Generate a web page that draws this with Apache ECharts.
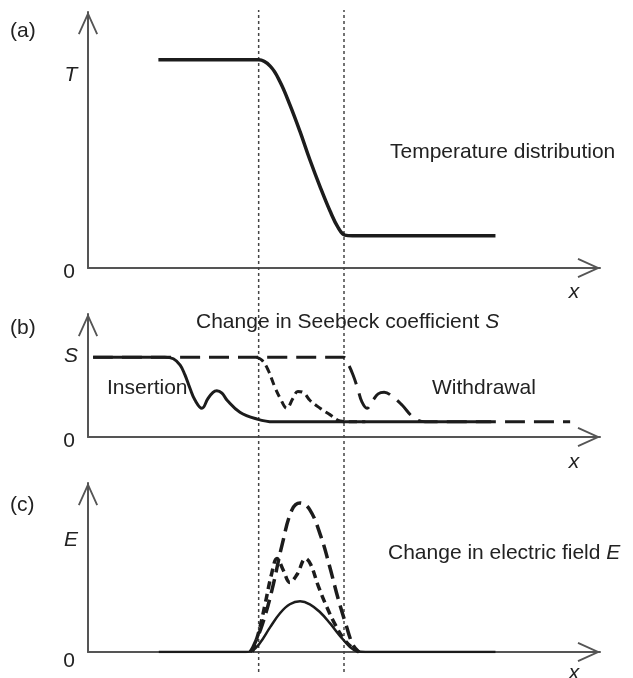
<!DOCTYPE html>
<html>
<head>
<meta charset="utf-8">
<script src="https://cdn.jsdelivr.net/npm/echarts@6/dist/echarts.min.js"></script>
<style>html,body{margin:0;padding:0;background:#fff;}#chart{width:633px;height:678px;}</style>
</head>
<body>
<div id="chart"></div>
<script>
// ---- Data (arbitrary units; x shared by all panels) ----
const boundaries = [4.0, 6.0];           // dotted vertical lines (x)
const xMax = 12;
const yMaxes = [1.23, 1.54, 1.7];       // top of each panel's y axis

// (a) Temperature distribution
const tCurve = [[1.65,1.0],[4.0,1.0],[4.27,0.97],[4.5,0.895],[4.73,0.785],[4.97,0.655],[5.2,0.52],[5.44,0.39],[5.67,0.275],[5.86,0.195],[6.02,0.158],[6.2,0.155],[9.55,0.155]];

// (b) Seebeck coefficient S
const sSolid = [[0.12,1.0],[1.8,1.0],[2.0,0.98],[2.16,0.9],[2.27,0.78],[2.39,0.61],[2.51,0.46],[2.67,0.36],[2.81,0.48],[2.93,0.56],[3.02,0.58],[3.14,0.55],[3.26,0.46],[3.56,0.31],[3.96,0.225],[4.34,0.19],[9.45,0.19]];
const sShortDash = [[3.95,1.0],[4.08,0.96],[4.22,0.84],[4.36,0.65],[4.5,0.49],[4.66,0.36],[4.8,0.48],[4.92,0.57],[5.04,0.56],[5.2,0.46],[5.44,0.36],[5.67,0.28],[5.91,0.2],[6.14,0.19],[6.5,0.19]];
const sLongDash = [[0.12,1.0],[5.98,1.0],[6.07,0.94],[6.21,0.78],[6.33,0.59],[6.42,0.44],[6.54,0.36],[6.68,0.46],[6.8,0.54],[6.94,0.56],[7.13,0.51],[7.36,0.40],[7.62,0.25],[7.9,0.19],[11.3,0.19]];

// (c) Electric field E
const eSolid = [[1.66,0],[3.7,0],[3.84,0.01],[4.03,0.09],[4.27,0.25],[4.5,0.39],[4.73,0.48],[4.97,0.51],[5.2,0.48],[5.44,0.4],[5.67,0.29],[5.91,0.16],[6.14,0.05],[6.3,0.01],[6.5,0],[9.55,0]];
const eShortDash = [[3.85,0],[4.0,0.2],[4.15,0.48],[4.3,0.78],[4.43,0.94],[4.58,0.82],[4.73,0.7],[4.9,0.78],[5.1,0.94],[5.22,0.88],[5.4,0.66],[5.6,0.45],[5.8,0.27],[6.0,0.13],[6.2,0.04],[6.35,0]];
const eLongDash = [[3.8,0],[3.87,0.05],[4.08,0.27],[4.31,0.62],[4.55,1.08],[4.78,1.43],[4.97,1.5],[5.2,1.43],[5.46,1.16],[5.67,0.85],[5.86,0.54],[6.05,0.27],[6.21,0.07],[6.35,0]];

// ---- Chart ----
const chart = echarts.init(document.getElementById('chart'), null, {renderer:'canvas'});
const FONT = '"Liberation Sans", Arial, sans-serif';
const FS = 21;
const INK = '#1c1c1c';
const AXIS = '#555';
const chevron = 'path://M10,-2.42L20.91,21.59L19.09,22.41L10,2.42L0.91,22.41L-0.91,21.59Z';

const grids = [
  {left:88, right:33, top:12, height:256},
  {left:88, right:33, top:314, height:123},
  {left:88, right:33, top:483, height:169},
  {left:88, right:33, top:10, bottom:6}
];

function axisLineCfg(){
  return {show:true, onZero:false, lineStyle:{color:AXIS, width:2},
    symbol:['none', chevron], symbolSize:[20,24], symbolOffset:[0,-11]};
}
const xAxes = [0,1,2].map(i => ({type:'value', gridIndex:i, min:0, max:xMax,
  axisLine:axisLineCfg(), axisTick:{show:false}, axisLabel:{show:false}, splitLine:{show:false}}));
xAxes.push({type:'value', gridIndex:3, min:0, max:xMax, show:false});
const yAxes = [0,1,2].map(i => ({type:'value', gridIndex:i, min:0, max:yMaxes[i],
  axisLine:axisLineCfg(), axisTick:{show:false}, axisLabel:{show:false}, splitLine:{show:false}}));
yAxes.push({type:'value', gridIndex:3, min:0, max:1, show:false});

function curve(data, idx, width, dash){
  return {type:'line', xAxisIndex:idx, yAxisIndex:idx, data:data, smooth:0.4,
    symbol:'none', showSymbol:false, z:3,
    lineStyle:{color:INK, width:width, type:dash || 'solid', cap:'butt', join:'round'}};
}

const series = [
  ...boundaries.map(b => ({type:'line', xAxisIndex:3, yAxisIndex:3, data:[[b,0],[b,1]],
    symbol:'none', z:1, lineStyle:{color:'#444', width:1.5, type:[3,3]}})),
  curve(tCurve, 0, 3.5),
  curve(sLongDash, 1, 3, [20,9]),
  curve(sShortDash, 1, 3, [8,5]),
  curve(sSolid, 1, 3),
  curve(eLongDash, 2, 3.5, [14,7]),
  curve(eShortDash, 2, 3.5, [8,5]),
  curve(eSolid, 2, 2.5)
];

function txt(text, x, y, opts){
  opts = opts || {};
  return {type:'text', x:x, y:y, silent:true, z:10,
    style:{text:text, fill:'#222', font:(opts.italic?'italic ':'') + FS + 'px ' + FONT,
      textAlign:opts.align||'left', textVerticalAlign:'middle'}};
}
function richTxt(text, x, y, align){
  return {type:'text', x:x, y:y, silent:true, z:10,
    style:{text:text, fill:'#222', fontSize:FS, fontFamily:FONT, textAlign:align||'left', textVerticalAlign:'middle',
      rich:{i:{fontStyle:'italic', fontSize:FS, fontFamily:FONT, fill:'#222'}}}};
}

const graphics = [
  txt('(a)', 10, 31), txt('T', 71, 75, {italic:true, align:'center'}), txt('0', 69, 272, {align:'center'}),
  txt('x', 574, 292, {italic:true, align:'center'}),
  txt('Temperature distribution', 390, 152),
  txt('(b)', 10, 328), txt('S', 71, 356, {italic:true, align:'center'}), txt('0', 69, 441, {align:'center'}),
  txt('x', 574, 462, {italic:true, align:'center'}),
  richTxt('Change in Seebeck coefficient {i|S}', 196, 322),
  txt('Insertion', 107, 388), txt('Withdrawal', 432, 388),
  txt('(c)', 10, 505), txt('E', 71, 540, {italic:true, align:'center'}), txt('0', 69, 661, {align:'center'}),
  txt('x', 574, 673, {italic:true, align:'center'}),
  richTxt('Change in electric field {i|E}', 388, 553)
];

chart.setOption({
  animation:false,
  backgroundColor:'#fff',
  grid:grids,
  xAxis:xAxes,
  yAxis:yAxes,
  series:series,
  graphic:graphics
});
</script>
</body>
</html>
